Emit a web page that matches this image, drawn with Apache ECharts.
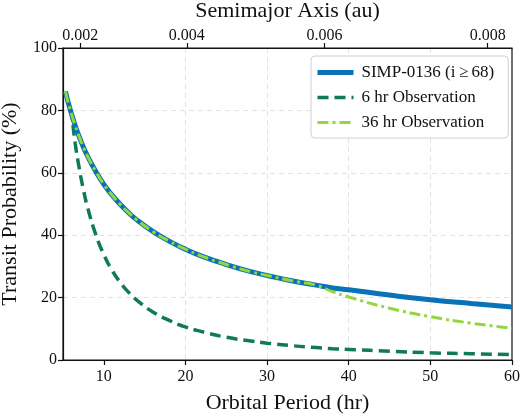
<!DOCTYPE html>
<html>
<head>
<meta charset="utf-8">
<script src="https://cdn.jsdelivr.net/npm/echarts@6/dist/echarts.min.js"></script>
<style>
  html, body { margin: 0; padding: 0; background: #fff; }
  #chart { width: 520px; height: 415px; }
</style>
</head>
<body>
<div id="chart"></div>
<script>
// orbital period (hr) sample points
const periods = [5.3, 5.6, 6, 6.5, 7, 7.5, 8, 9, 10, 11, 12, 13, 14, 16, 18, 20, 22, 25, 28, 30, 33, 36, 38, 40, 45, 50, 55, 60];
// transit probability (%)
const simpProb  = [86, 82.9, 79.2, 75.1, 71.5, 68.2, 65.4, 60.5, 56.3, 52.9, 49.9, 47.3, 45.0, 41.2, 38.1, 35.5, 33.3, 30.6, 28.3, 27.1, 25.4, 24.0, 23.1, 22.5, 20.8, 19.3, 18.1, 17.0];
const obs6Prob  = [86, 82.9, 79.2, 69.3, 61.3, 54.6, 49.0, 40.3, 33.8, 28.8, 24.9, 21.8, 19.3, 15.4, 12.7, 10.6, 9.1, 7.3, 6.1, 5.4, 4.6, 4.0, 3.6, 3.4, 2.8, 2.3, 2.0, 1.7];
const obs36Prob = [86, 82.9, 79.2, 75.1, 71.5, 68.2, 65.4, 60.5, 56.3, 52.9, 49.9, 47.3, 45.0, 41.2, 38.1, 35.5, 33.3, 30.6, 28.3, 27.1, 25.4, 24.0, 21.9, 20.2, 16.6, 13.9, 11.8, 10.2];

const periodTicks = [10, 20, 30, 40, 50, 60];
const axisTicks = [0.002, 0.004, 0.006, 0.008];   // au
const axisTickLabels = ['0.002', '0.004', '0.006', '0.008'];

const seriesNames = ['SIMP-0136 (i\u2009\u2265\u200968)', '6 hr Observation', '36 hr Observation'];

// Kepler's third law, host mass ~0.0121 Msun -> period in hours
const hostMass = 0.0121;
function periodOf(a) {
  return Math.sqrt(a * a * a / hostMass) * 365.25 * 24;
}
const axisTickPeriods = axisTicks.map(periodOf);

const FONT = 'Liberation Serif';
const pairs = (ys) => periods.map((p, i) => [p, ys[i]]);

const chart = echarts.init(document.getElementById('chart'), null, { renderer: 'canvas' });

const option = {
  animation: false,
  textStyle: { fontFamily: FONT, color: '#111' },
  grid: {
    left: 63, right: 8, top: 48, bottom: 55,
    outerBoundsMode: 'none', containLabel: false,
    show: true, borderColor: '#111', borderWidth: 1.2, backgroundColor: 'transparent'
  },
  legend: {
    orient: 'vertical',
    left: 311, top: 56,
    padding: [8, 14, 7, 4],
    itemGap: 8,
    itemWidth: 36, itemHeight: 14,
    backgroundColor: '#fff',
    borderColor: '#d0d0d0', borderWidth: 1, borderRadius: 4,
    itemStyle: { opacity: 0 },
    textStyle: { fontFamily: FONT, fontSize: 17, lineHeight: 15, color: '#111', padding: [0, 0, 0, 3] },
    data: [
      { name: seriesNames[0], lineStyle: { width: 5 } },
      { name: seriesNames[1], lineStyle: { width: 3.5 } },
      { name: seriesNames[2], lineStyle: { width: 3 } }
    ]
  },
  xAxis: [
    {
      type: 'value', position: 'bottom',
      min: 5, max: 60,
      name: 'Orbital Period (hr)', nameLocation: 'middle', nameGap: 32,
      nameTextStyle: { fontFamily: FONT, fontSize: 22, color: '#111' },
      axisLine: { show: true, lineStyle: { color: '#111', width: 1.2 } },
      axisTick: { show: true, length: 5, customValues: periodTicks, lineStyle: { color: '#111', width: 1.2 } },
      axisLabel: { customValues: periodTicks, fontFamily: FONT, fontSize: 16, color: '#111', margin: 9 },
      splitLine: { show: true, showMinLine: false, showMaxLine: false, lineStyle: { color: '#e3e3e3', type: [5, 4], width: 1 } }
    },
    {
      type: 'value', position: 'top',
      min: 5, max: 60,
      name: 'Semimajor Axis (au)', nameLocation: 'middle', nameGap: 26,
      nameTextStyle: { fontFamily: FONT, fontSize: 22, color: '#111' },
      axisLine: { show: true, lineStyle: { color: '#111', width: 1.2 } },
      axisTick: { show: true, length: 5, customValues: axisTickPeriods, lineStyle: { color: '#111', width: 1.2 } },
      axisLabel: {
        customValues: axisTickPeriods, fontFamily: FONT, fontSize: 16, color: '#111', margin: 4,
        formatter: function (v) {
          let best = 0;
          axisTickPeriods.forEach((p, i) => { if (Math.abs(p - v) < Math.abs(axisTickPeriods[best] - v)) best = i; });
          return axisTickLabels[best];
        }
      },
      splitLine: { show: false }
    }
  ],
  yAxis: {
    type: 'value', min: 0, max: 100, interval: 20,
    name: 'Transit Probability (%)', nameLocation: 'middle', nameGap: 42,
    nameTextStyle: { fontFamily: FONT, fontSize: 22, color: '#111' },
    axisLine: { show: true, lineStyle: { color: '#111', width: 1.2 } },
    axisTick: { show: true, length: 5, lineStyle: { color: '#111', width: 1.2 } },
    axisLabel: { fontFamily: FONT, fontSize: 16, color: '#111', margin: 6 },
    splitLine: { show: true, showMinLine: false, showMaxLine: false, lineStyle: { color: '#e3e3e3', type: [5, 4], width: 1 } }
  },
  series: [
    {
      name: seriesNames[0], type: 'line', xAxisIndex: 0, z: 3,
      data: pairs(simpProb), symbol: 'none', smooth: 0.5,
      lineStyle: { color: '#0a72b6', width: 5 }, itemStyle: { color: '#0a72b6' }
    },
    {
      name: seriesNames[1], type: 'line', xAxisIndex: 0, z: 2,
      data: pairs(obs6Prob), symbol: 'none', smooth: 0.5,
      lineStyle: { color: '#10795c', width: 3.5, type: [11, 6] }, itemStyle: { color: '#10795c' }
    },
    {
      name: seriesNames[2], type: 'line', xAxisIndex: 0, z: 4,
      data: pairs(obs36Prob), symbol: 'none', smooth: 0.5,
      lineStyle: { color: '#93d63d', width: 3, type: [11, 4, 3, 4] }, itemStyle: { color: '#93d63d' }
    }
  ]
};

chart.setOption(option);
</script>
</body>
</html>
